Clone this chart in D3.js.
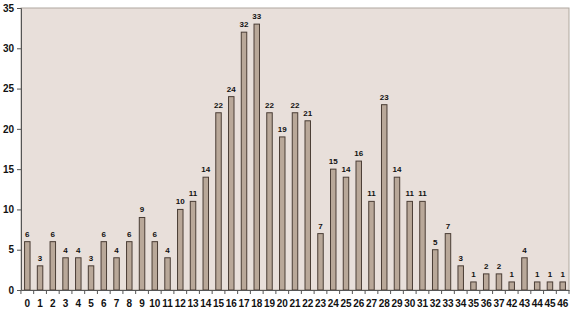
<!DOCTYPE html>
<html><head><meta charset="utf-8">
<script src="https://cdn.jsdelivr.net/npm/d3@7"></script>
<style>body{margin:0;background:#fff}svg{display:block}</style>
</head><body><svg id="c" width="574" height="311"></svg>
<script>
const categories = ["0","1","2","3","4","5","6","7","8","9","10","11","12","13","14","15","16","17","18","19","20","21","22","23","24","25","26","27","28","29","30","31","32","33","34","35","36","37","42","43","44","45","46"];
const values = [6,3,6,4,4,3,6,4,6,9,6,4,10,11,14,22,24,32,33,22,19,22,21,7,15,14,16,11,23,14,11,11,5,7,3,1,2,2,1,4,1,1,1];
const yTicks = [0,5,10,15,20,25,30,35];

const svg = d3.select("#c");
const L=21, R=569, T=8, B=290;
const x = d3.scaleBand().domain(categories).range([L,R]).paddingInner(0.57).paddingOuter(0.28);
const y = d3.scaleLinear().domain([0,35]).range([B,T]);

svg.append("rect").attr("x",L).attr("y",T).attr("width",R-L).attr("height",B-T)
  .attr("fill","#E8DFDA").attr("stroke","#B0A89F").attr("stroke-width",1);

svg.selectAll("rect.bar").data(values).join("rect").attr("class","bar")
  .attr("x",(d,i)=>x(categories[i])).attr("y",d=>y(d))
  .attr("width",x.bandwidth()).attr("height",d=>B-y(d))
  .attr("fill","#B9A899").attr("stroke","#4A3D35").attr("stroke-width",1);

svg.selectAll("text.val").data(values).join("text").attr("class","val")
  .attr("x",(d,i)=>x(categories[i])+x.bandwidth()/2).attr("y",d=>y(d)-5)
  .attr("text-anchor","middle").attr("font-family","Arial, Liberation Sans, sans-serif")
  .attr("font-size",8).attr("font-weight","bold").attr("fill","#111").text(d=>d);

const yAxis = d3.axisLeft(y).tickValues(yTicks).tickSize(4).tickPadding(3);
const gy = svg.append("g").attr("transform",`translate(${L},0)`).call(yAxis);
gy.select(".domain").attr("stroke","#555");
gy.selectAll("line").attr("stroke","#555");
gy.selectAll("text").attr("font-family","Arial, Liberation Sans, sans-serif").attr("font-size",10).attr("font-weight","bold").attr("fill","#111");

const xAxis = d3.axisBottom(x).tickSize(0).tickPadding(10);
const gx = svg.append("g").attr("transform",`translate(0,${B})`).call(xAxis);
gx.select(".domain").attr("stroke","#555");
gx.selectAll("text").attr("font-family","Arial, Liberation Sans, sans-serif").attr("font-size",10).attr("font-weight","bold").attr("fill","#111");
const step = x.step();
const bounds = categories.map((c,i)=>x(c)-x.paddingInner()*step/2).concat([R]);
svg.append("g").selectAll("line").data(bounds).join("line")
  .attr("x1",d=>d).attr("x2",d=>d).attr("y1",B).attr("y2",B+4).attr("stroke","#555");
</script></body></html>
